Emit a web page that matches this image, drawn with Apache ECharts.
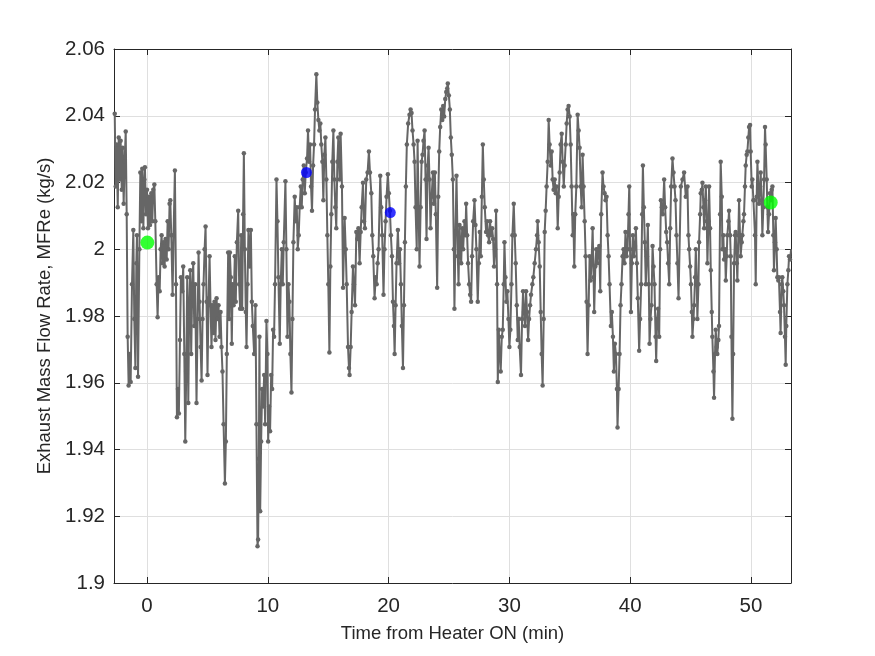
<!DOCTYPE html>
<html>
<head>
<meta charset="utf-8">
<script src="https://cdn.jsdelivr.net/npm/echarts@6/dist/echarts.min.js"></script>
<style>
  html, body { margin: 0; padding: 0; background: #fff; }
  #chart { width: 875px; height: 656px; }
</style>
</head>
<body>
<div id="chart"></div>
<script>
// time from heater ON (min) and exhaust mass flow rate (kg/s)
const timeMin = [
  -2.67,-2.59,-2.51,-2.42,-2.34,-2.26,-2.18,-2.09,-2.01,-1.93,-1.85,-1.76,-1.68,-1.60,-1.52,-1.43,-1.35,-1.24,-1.13,-1.05,
  -0.96,-0.88,-0.83,-0.74,-0.63,-0.55,-0.47,-0.39,-0.30,-0.22,-0.17,-0.08,0.00,0.08,0.17,0.25,0.36,0.44,0.52,0.61,
  0.69,0.80,0.88,0.96,1.05,1.13,1.21,1.29,1.38,1.46,1.54,1.63,1.71,1.79,1.87,1.93,2.01,2.12,2.20,2.31,
  2.40,2.48,2.56,2.64,2.73,2.81,2.92,3.00,3.09,3.17,3.25,3.33,3.42,3.50,3.58,3.66,3.75,3.83,3.91,3.99,
  4.10,4.19,4.27,4.35,4.44,4.52,4.60,4.68,4.77,4.85,4.93,5.01,5.10,5.18,5.26,5.34,5.43,5.51,5.59,5.67,
  5.76,5.84,5.92,6.01,6.09,6.17,6.25,6.34,6.45,6.53,6.61,6.72,6.80,6.86,6.94,7.02,7.09,7.17,7.27,7.35,
  7.44,7.55,7.63,7.71,7.80,7.88,7.96,8.02,8.10,8.18,8.24,8.32,8.40,8.49,8.60,8.68,8.76,8.87,8.98,9.06,
  9.15,9.20,9.26,9.31,9.37,9.45,9.53,9.61,9.70,9.78,9.89,9.97,10.03,10.11,10.19,10.28,10.36,10.44,10.52,10.60,
  10.72,10.80,10.88,10.99,11.07,11.16,11.24,11.32,11.46,11.54,11.63,11.71,11.79,11.87,11.96,12.04,12.12,12.23,12.31,12.40,
  12.48,12.56,12.64,12.73,12.81,12.89,12.98,13.06,13.14,13.25,13.33,13.42,13.50,13.58,13.66,13.75,13.83,13.91,14.02,14.10,
  14.19,14.27,14.35,14.43,14.52,14.60,14.68,14.77,14.85,14.93,15.01,15.10,15.18,15.26,15.34,15.43,15.51,15.59,15.67,15.76,
  15.84,15.95,16.03,16.14,16.23,16.36,16.45,16.53,16.64,16.72,16.77,16.86,16.94,17.05,17.13,17.22,17.33,17.41,17.50,17.60,
  17.69,17.77,17.88,17.96,18.04,18.15,18.26,18.37,18.46,18.57,18.65,18.73,18.84,18.93,19.01,19.09,19.17,19.31,19.39,19.47,
  19.58,19.66,19.75,19.83,19.94,20.02,20.11,20.19,20.28,20.36,20.44,20.50,20.58,20.66,20.77,20.86,20.94,21.02,21.10,21.19,
  21.27,21.35,21.43,21.51,21.62,21.73,21.82,21.90,21.98,22.07,22.15,22.23,22.33,22.40,22.48,22.56,22.65,22.73,22.81,22.89,
  22.98,23.06,23.14,23.23,23.31,23.39,23.47,23.56,23.67,23.75,23.83,23.91,24.02,24.11,24.19,24.27,24.36,24.44,24.52,24.60,
  24.69,24.77,24.85,24.90,24.99,25.07,25.15,25.23,25.32,25.40,25.45,25.54,25.62,25.73,25.79,25.87,25.95,26.01,26.09,26.17,
  26.28,26.36,26.42,26.50,26.58,26.67,26.75,26.83,26.91,27.00,27.11,27.19,27.27,27.38,27.47,27.55,27.63,27.72,27.80,27.88,
  27.96,28.07,28.15,28.24,28.32,28.40,28.48,28.57,28.65,28.73,28.82,28.90,28.98,29.04,29.12,29.20,29.28,29.37,29.45,29.53,
  29.59,29.67,29.75,29.83,29.92,30.00,30.08,30.17,30.25,30.36,30.44,30.52,30.61,30.69,30.77,30.85,30.96,31.05,31.13,31.21,
  31.29,31.38,31.46,31.55,31.63,31.71,31.79,31.90,31.98,32.09,32.20,32.29,32.34,32.42,32.51,32.59,32.67,32.75,32.84,32.92,
  33.00,33.08,33.17,33.25,33.33,33.42,33.50,33.58,33.66,33.75,33.83,33.91,34.00,34.08,34.16,34.24,34.33,34.41,34.50,34.57,
  34.66,34.74,34.82,34.90,34.99,35.07,35.15,35.24,35.29,35.37,35.45,35.54,35.65,35.73,35.81,35.90,35.98,36.06,36.14,36.23,
  36.31,36.39,36.47,36.56,36.64,36.72,36.80,36.89,36.97,37.02,37.11,37.19,37.27,37.36,37.44,37.52,37.60,37.71,37.79,37.88,
  37.96,38.04,38.13,38.21,38.29,38.40,38.48,38.57,38.65,38.73,38.82,38.90,38.95,39.04,39.12,39.20,39.28,39.37,39.45,39.53,
  39.61,39.70,39.78,39.86,39.92,39.99,40.06,40.14,40.22,40.30,40.39,40.47,40.55,40.63,40.74,40.82,40.91,40.99,41.05,41.13,
  41.21,41.29,41.38,41.46,41.54,41.60,41.68,41.76,41.85,41.93,42.01,42.10,42.15,42.23,42.31,42.40,42.48,42.54,42.62,42.70,
  42.81,42.89,42.98,43.06,43.14,43.23,43.31,43.39,43.50,43.58,43.67,43.75,43.83,43.91,44.00,44.19,44.33,44.46,44.60,44.74,
  44.82,44.88,44.96,45.03,45.10,45.15,45.24,45.29,45.37,45.43,45.51,45.56,45.65,45.70,45.79,45.84,45.93,45.98,46.06,46.12,
  46.20,46.26,46.34,46.39,46.48,46.53,46.61,46.67,46.75,46.80,46.89,46.94,47.02,47.08,47.16,47.21,47.30,47.35,47.44,47.49,
  47.58,47.63,47.71,47.77,47.85,47.91,47.99,48.04,48.13,48.18,48.27,48.32,48.38,48.46,48.52,48.60,48.68,48.73,48.82,48.87,
  48.95,49.01,49.09,49.14,49.23,49.28,49.37,49.42,49.50,49.56,49.64,49.70,49.78,49.84,49.92,49.97,50.06,50.11,50.20,50.25,
  50.33,50.39,50.47,50.53,50.61,50.66,50.75,50.80,50.88,50.94,51.02,51.08,51.16,51.21,51.30,51.35,51.41,51.49,51.57,51.65,
  51.71,51.77,51.85,51.90,51.98,52.04,52.12,52.18,52.26,52.31,52.40,52.45,52.54,52.59,52.67,52.73,52.81,52.87,52.92,53.01,
  53.09,53.15,53.23,53.32
];

const mfre = [
  2.0406,2.0188,2.0314,2.0126,2.0335,2.0209,2.0325,2.0178,2.0304,2.0136,2.0262,2.0353,2.0105,1.9738,1.9592,1.9686,1.9602,1.9895,2.0058,1.9791,
  1.9644,1.9958,2.0042,1.9618,2.0000,2.0230,2.0084,2.0241,2.0063,2.0209,2.0246,2.0105,2.0178,2.0063,2.0157,2.0073,2.0168,2.0084,2.0178,2.0194,
  2.0084,1.9895,1.9796,1.9916,1.9874,2.0000,2.0042,1.9958,2.0021,1.9948,2.0031,1.9969,2.0084,2.0000,2.0136,2.0147,2.0042,1.9864,2.0042,2.0236,
  1.9895,1.9497,1.9581,1.9508,1.9728,1.9916,1.9874,1.9948,1.9686,1.9424,1.9634,1.9916,1.9539,1.9843,1.9937,1.9686,1.9895,1.9958,1.9770,1.9895,
  1.9539,1.9791,1.9990,1.9843,1.9707,1.9607,1.9791,1.9895,2.0000,2.0068,1.9843,1.9623,1.9853,1.9979,1.9832,1.9707,1.9832,1.9749,1.9843,1.9728,
  1.9853,1.9791,1.9832,1.9738,1.9812,1.9707,1.9634,1.9476,1.9298,1.9424,1.9686,1.9990,1.9791,1.9990,1.9916,1.9717,1.9895,1.9832,1.9979,1.9843,
  2.0021,2.0115,1.9895,1.9822,2.0042,1.9822,2.0105,2.0288,2.0000,1.9812,1.9707,1.9895,2.0058,1.9948,2.0058,1.9843,1.9770,1.9686,1.9832,1.9476,
  1.9110,1.9130,1.9372,1.9738,1.9215,1.9424,1.9581,1.9529,1.9623,1.9476,1.9785,1.9686,1.9424,1.9529,1.9455,1.9623,1.9581,1.9759,1.9738,1.9895,
  2.0209,2.0084,1.9916,1.9717,1.9895,2.0000,1.9895,2.0021,2.0204,2.0000,1.9738,1.9895,1.9843,1.9686,1.9571,1.9791,2.0021,2.0157,2.0084,2.0126,
  2.0000,2.0042,2.0126,2.0188,2.0126,2.0209,2.0251,2.0168,2.0230,2.0272,2.0356,2.0262,2.0314,2.0188,2.0115,2.0251,2.0314,2.0419,2.0524,2.0440,
  2.0387,2.0356,2.0377,2.0314,2.0262,2.0147,2.0283,2.0335,2.0209,2.0042,1.9895,1.9691,1.9948,2.0105,2.0262,2.0356,2.0209,2.0126,2.0063,2.0262,
  2.0335,2.0209,2.0346,2.0188,1.9885,2.0094,2.0000,1.9895,1.9707,1.9644,1.9623,1.9707,1.9812,1.9948,1.9895,1.9832,2.0052,2.0031,2.0063,1.9958,
  2.0052,2.0126,2.0199,2.0084,2.0063,2.0209,2.0230,2.0293,2.0230,2.0168,2.0042,1.9979,1.9853,1.9916,1.9895,1.9958,2.0000,2.0220,2.0126,2.0042,
  1.9864,2.0000,2.0084,2.0157,2.0225,2.0168,2.0115,2.0042,1.9979,1.9843,1.9770,1.9686,1.9832,1.9958,2.0058,1.9958,2.0000,1.9895,1.9770,1.9644,
  1.9832,2.0021,2.0188,2.0314,2.0377,2.0403,2.0419,2.0408,2.0356,2.0314,2.0262,2.0126,2.0000,2.0325,2.0126,1.9948,2.0126,2.0262,2.0283,2.0325,
  2.0356,2.0209,2.0031,2.0251,2.0304,2.0209,2.0063,2.0157,2.0230,2.0136,2.0230,2.0105,1.9885,2.0157,2.0293,2.0366,2.0419,2.0387,2.0429,2.0398,
  2.0450,2.0471,2.0482,2.0497,2.0461,2.0419,2.0335,2.0283,2.0209,2.0000,1.9822,2.0052,2.0220,1.9979,1.9895,2.0073,2.0000,1.9958,2.0063,2.0000,
  2.0084,2.0042,2.0136,2.0042,1.9958,1.9895,1.9864,1.9843,1.9979,2.0084,2.0147,2.0073,2.0000,1.9843,1.9958,2.0052,1.9979,2.0157,2.0314,2.0209,
  2.0126,2.0052,2.0084,2.0042,2.0021,2.0084,2.0042,2.0063,2.0031,1.9948,2.0000,2.0115,1.9895,1.9602,1.9759,1.9686,1.9634,1.9738,1.9759,1.9895,
  2.0021,1.9916,1.9843,1.9874,1.9791,1.9707,1.9759,1.9895,2.0042,2.0136,2.0042,1.9958,1.9832,1.9728,1.9791,1.9707,1.9623,1.9791,1.9874,1.9812,
  1.9770,1.9874,1.9812,1.9728,1.9791,1.9832,1.9864,1.9895,1.9916,1.9958,2.0000,2.0042,2.0084,2.0021,1.9948,1.9812,1.9686,1.9592,1.9791,2.0052,
  2.0115,2.0188,2.0262,2.0387,2.0314,2.0251,2.0293,2.0209,2.0178,2.0209,2.0168,2.0188,2.0063,2.0157,2.0230,2.0314,2.0346,2.0262,2.0188,2.0251,
  2.0314,2.0377,2.0419,2.0429,2.0398,2.0314,2.0188,2.0042,2.0105,1.9948,2.0105,2.0188,2.0403,2.0356,2.0304,2.0188,2.0126,2.0283,2.0188,2.0084,
  1.9979,1.9843,1.9686,1.9832,1.9979,1.9906,1.9958,2.0063,1.9916,1.9812,1.9948,2.0000,1.9958,2.0000,2.0010,1.9874,2.0105,2.0230,2.0188,2.0168,
  2.0147,2.0157,2.0042,1.9979,1.9895,1.9770,1.9812,1.9738,1.9634,1.9717,1.9686,1.9581,1.9466,1.9581,1.9686,1.9832,1.9895,1.9979,2.0000,1.9958,
  2.0052,1.9979,2.0000,2.0105,2.0188,2.0000,1.9812,1.9958,2.0042,1.9979,2.0010,2.0063,1.9958,1.9853,1.9696,1.9791,1.9895,2.0105,2.0251,2.0126,
  2.0021,1.9895,1.9979,2.0073,1.9895,1.9717,1.9791,1.9832,2.0010,1.9948,1.9895,1.9738,1.9665,1.9791,1.9822,1.9738,2.0000,2.0147,2.0126,2.0105,
  2.0209,2.0126,2.0052,2.0021,1.9958,1.9895,2.0063,2.0188,2.0272,2.0230,2.0188,2.0147,2.0042,1.9958,1.9853,2.0188,2.0209,2.0230,2.0157,2.0188,
  2.0042,2.0000,1.9948,1.9895,1.9812,1.9738,1.9791,1.9832,1.9916,2.0000,1.9895,1.9791,1.9895,2.0021,2.0105,2.0168,2.0178,2.0199,2.0126,2.0063,
  2.0147,2.0188,2.0084,1.9958,2.0084,2.0188,2.0063,1.9937,1.9812,1.9738,1.9634,1.9555,1.9686,1.9759,1.9707,1.9686,1.9728,1.9770,2.0105,2.0262,
  2.0157,2.0000,2.0042,1.9969,2.0000,1.9906,1.9979,2.0042,2.0084,2.0115,2.0042,1.9979,1.9738,1.9492,1.9686,1.9958,2.0042,2.0052,1.9958,1.9906,
  2.0042,2.0147,2.0042,1.9979,2.0021,2.0042,2.0084,2.0105,2.0188,2.0251,2.0283,2.0293,2.0335,2.0366,2.0372,2.0293,2.0188,2.0209,2.0147,2.0147,
  2.0042,1.9895,2.0157,2.0262,2.0188,2.0136,2.0188,2.0230,2.0147,2.0042,2.0126,2.0209,2.0366,2.0314,2.0209,2.0126,2.0052,2.0105,2.0168,2.0147,
  2.0178,2.0188,2.0042,1.9937,2.0021,2.0094,2.0000,1.9916,1.9906,1.9916,1.9812,1.9749,1.9895,1.9916,1.9874,1.9832,1.9738,1.9654,1.9770,1.9895,
  1.9937,1.9979,1.9969,2.0000
];

// highlighted points
const greenTime = [0.03, 51.63];
const greenVal = [2.002, 2.014];
const blueTime = [13.2, 20.14];
const blueVal = [2.023, 2.011];

const xMin = -2.73, xMax = 53.31;
const yMin = 1.9, yMax = 2.06;

let chart = echarts.init(document.querySelector("#chart"));

const pairs = (xs, ys) => xs.map((x, i) => [x, ys[i]]);
const font = "'Liberation Sans', Arial, Helvetica, sans-serif";
const ink = '#262626';

function drawChart() {
    let axisLineStyle = { color: ink, width: 1 };
    let option = {
        animation: false,
        backgroundColor: '#ffffff',
        grid: { left: 114, top: 49, width: 677, height: 534, containLabel: false },
        xAxis: [
            {
                type: 'value',
                min: xMin,
                max: xMax,
                splitNumber: 5,
                position: 'bottom',
                name: 'Time from Heater ON (min)',
                nameLocation: 'middle',
                nameGap: 41,
                nameTextStyle: { color: ink, fontSize: 18.5, fontFamily: font },
                axisLine: { show: true, onZero: false, lineStyle: axisLineStyle },
                axisTick: { show: true, inside: true, length: 6, lineStyle: axisLineStyle },
                axisLabel: {
                    color: ink, fontSize: 20.5, fontFamily: font, margin: 13,
                    showMinLabel: false, showMaxLabel: false,
                    formatter: (v) => (Math.abs(v % 10) < 1e-6 ? String(v) : '')
                },
                splitLine: { show: true, lineStyle: { color: '#dfdfdf', width: 1 } }
            },
            {
                type: 'value',
                min: xMin,
                max: xMax,
                splitNumber: 5,
                position: 'top',
                axisLine: { show: true, onZero: false, lineStyle: axisLineStyle },
                axisTick: { show: true, inside: true, length: 6, lineStyle: axisLineStyle },
                axisLabel: { show: false },
                splitLine: { show: false }
            }
        ],
        yAxis: [
            {
                type: 'value',
                min: yMin,
                max: yMax,
                interval: 0.02,
                position: 'left',
                name: 'Exhaust Mass Flow Rate, MFRe (kg/s)',
                nameLocation: 'middle',
                nameGap: 60,
                nameTextStyle: { color: ink, fontSize: 18.5, fontFamily: font },
                axisLine: { show: true, onZero: false, lineStyle: axisLineStyle },
                axisTick: { show: true, inside: true, length: 6, lineStyle: axisLineStyle },
                axisLabel: {
                    color: ink, fontSize: 20.5, fontFamily: font, margin: 9,
                    formatter: (v) => String(+v.toFixed(2))
                },
                splitLine: { show: true, lineStyle: { color: '#dfdfdf', width: 1 } }
            },
            {
                type: 'value',
                min: yMin,
                max: yMax,
                interval: 0.02,
                position: 'right',
                axisLine: { show: true, onZero: false, lineStyle: axisLineStyle },
                axisTick: { show: true, inside: true, length: 6, lineStyle: axisLineStyle },
                axisLabel: { show: false },
                splitLine: { show: false }
            }
        ],
        series: [
            {
                name: 'MFRe',
                type: 'line',
                data: pairs(timeMin, mfre),
                xAxisIndex: 0,
                yAxisIndex: 0,
                showAllSymbol: true,
                symbol: 'circle',
                symbolSize: 4.5,
                lineStyle: { color: '#666666', width: 2 },
                itemStyle: { color: '#666666' },
                clip: true,
                z: 2
            },
            {
                name: 'green',
                type: 'scatter',
                data: pairs(greenTime, greenVal),
                symbolSize: 14,
                itemStyle: { color: '#00ff00' },
                z: 3
            },
            {
                name: 'blue',
                type: 'scatter',
                data: pairs(blueTime, blueVal),
                symbolSize: 11,
                itemStyle: { color: '#0000ff' },
                z: 3
            }
        ]
    };
    chart.setOption(option);
}

drawChart();
</script>
</body>
</html>
